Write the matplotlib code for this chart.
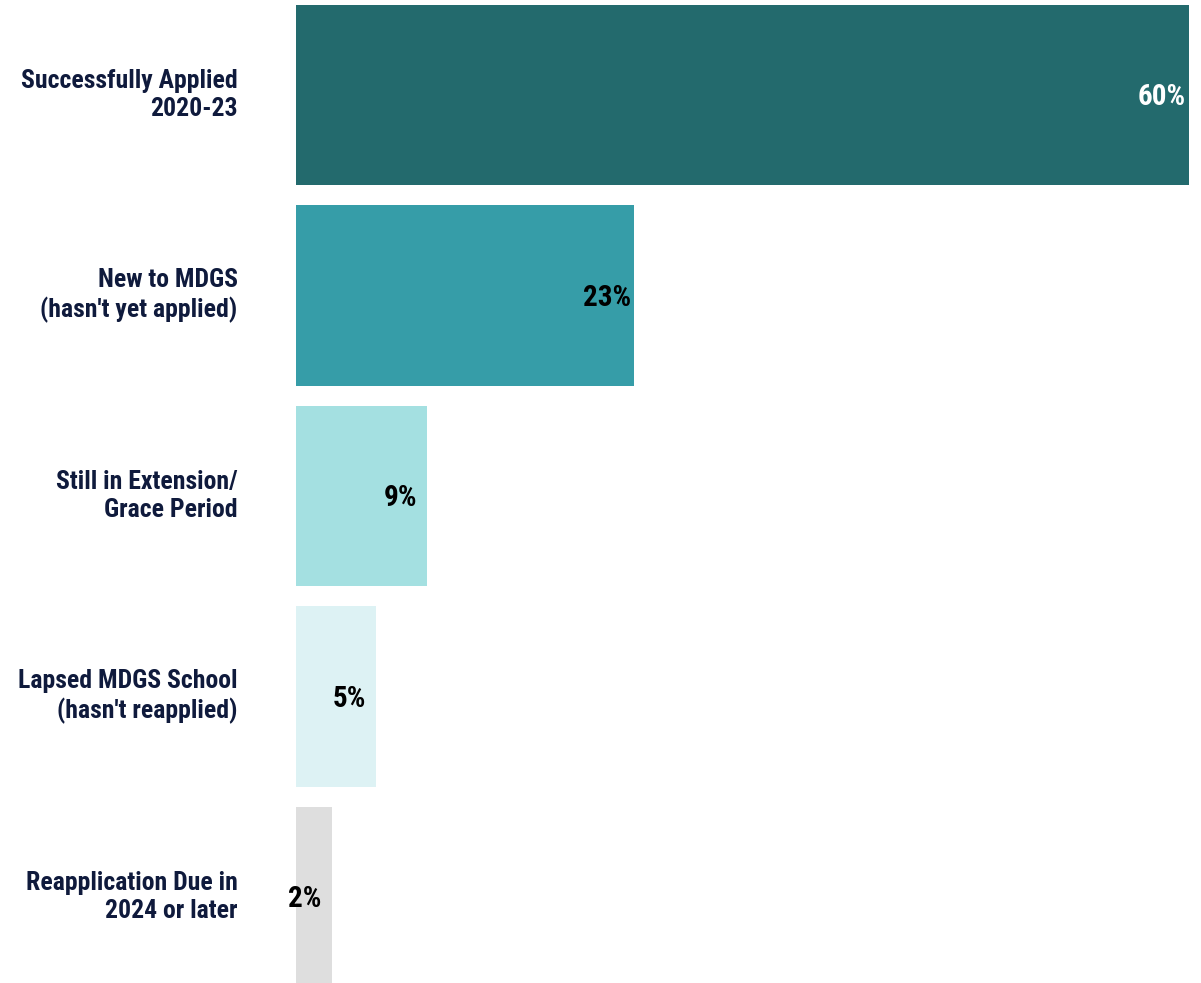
import matplotlib
matplotlib.use("Agg")
import matplotlib.pyplot as plt
from matplotlib.transforms import offset_copy

# data
categories = ["Successfully Applied\n2020-23",
              "New to MDGS\n(hasn't yet applied)",
              "Still in Extension/\nGrace Period",
              "Lapsed MDGS School\n(hasn't reapplied)",
              "Reapplication Due in\n2024 or later"]
values = [60.0, 22.7, 8.8, 5.4, 2.4]
labels = ["60%", "23%", "9%", "5%", "2%"]
colors = ["#236a6d", "#369da8", "#a4e0e1", "#ddf2f4", "#dedede"]
label_colors = ["white", "black", "black", "black", "black"]

plt.rcParams["font.family"] = ["Roboto Condensed", "DejaVu Sans"]
plt.rcParams["font.weight"] = "bold"

fig = plt.figure(figsize=(12.01, 9.83), dpi=100)
ax = fig.add_axes([296 / 1201, 0, 905 / 1201, 1])

y = list(range(len(categories)))
ax.barh(y, values, height=0.9, color=colors)
ax.set_ylim(4.429, -0.474)
ax.set_xlim(0, 60.8)

ax.set_yticks(y)
ax.set_yticklabels(categories, fontsize=18.5, color="#0f1a3c", fontweight="bold",
                   linespacing=1.22, ha="right", va="center")
ax.tick_params(axis="y", length=0, pad=42)
ax.set_xticks([])
for s in ax.spines.values():
    s.set_visible(False)

# value labels centred a fixed distance in from the bar end
tr = offset_copy(ax.transData, fig=fig, x=-19.4, y=-1.5, units="points")
for yi, v, lab, c in zip(y, values, labels, label_colors):
    ax.text(v, yi, lab, transform=tr, ha="center", va="center",
            fontsize=21, fontweight="bold", color=c)

fig.savefig("out.png")
